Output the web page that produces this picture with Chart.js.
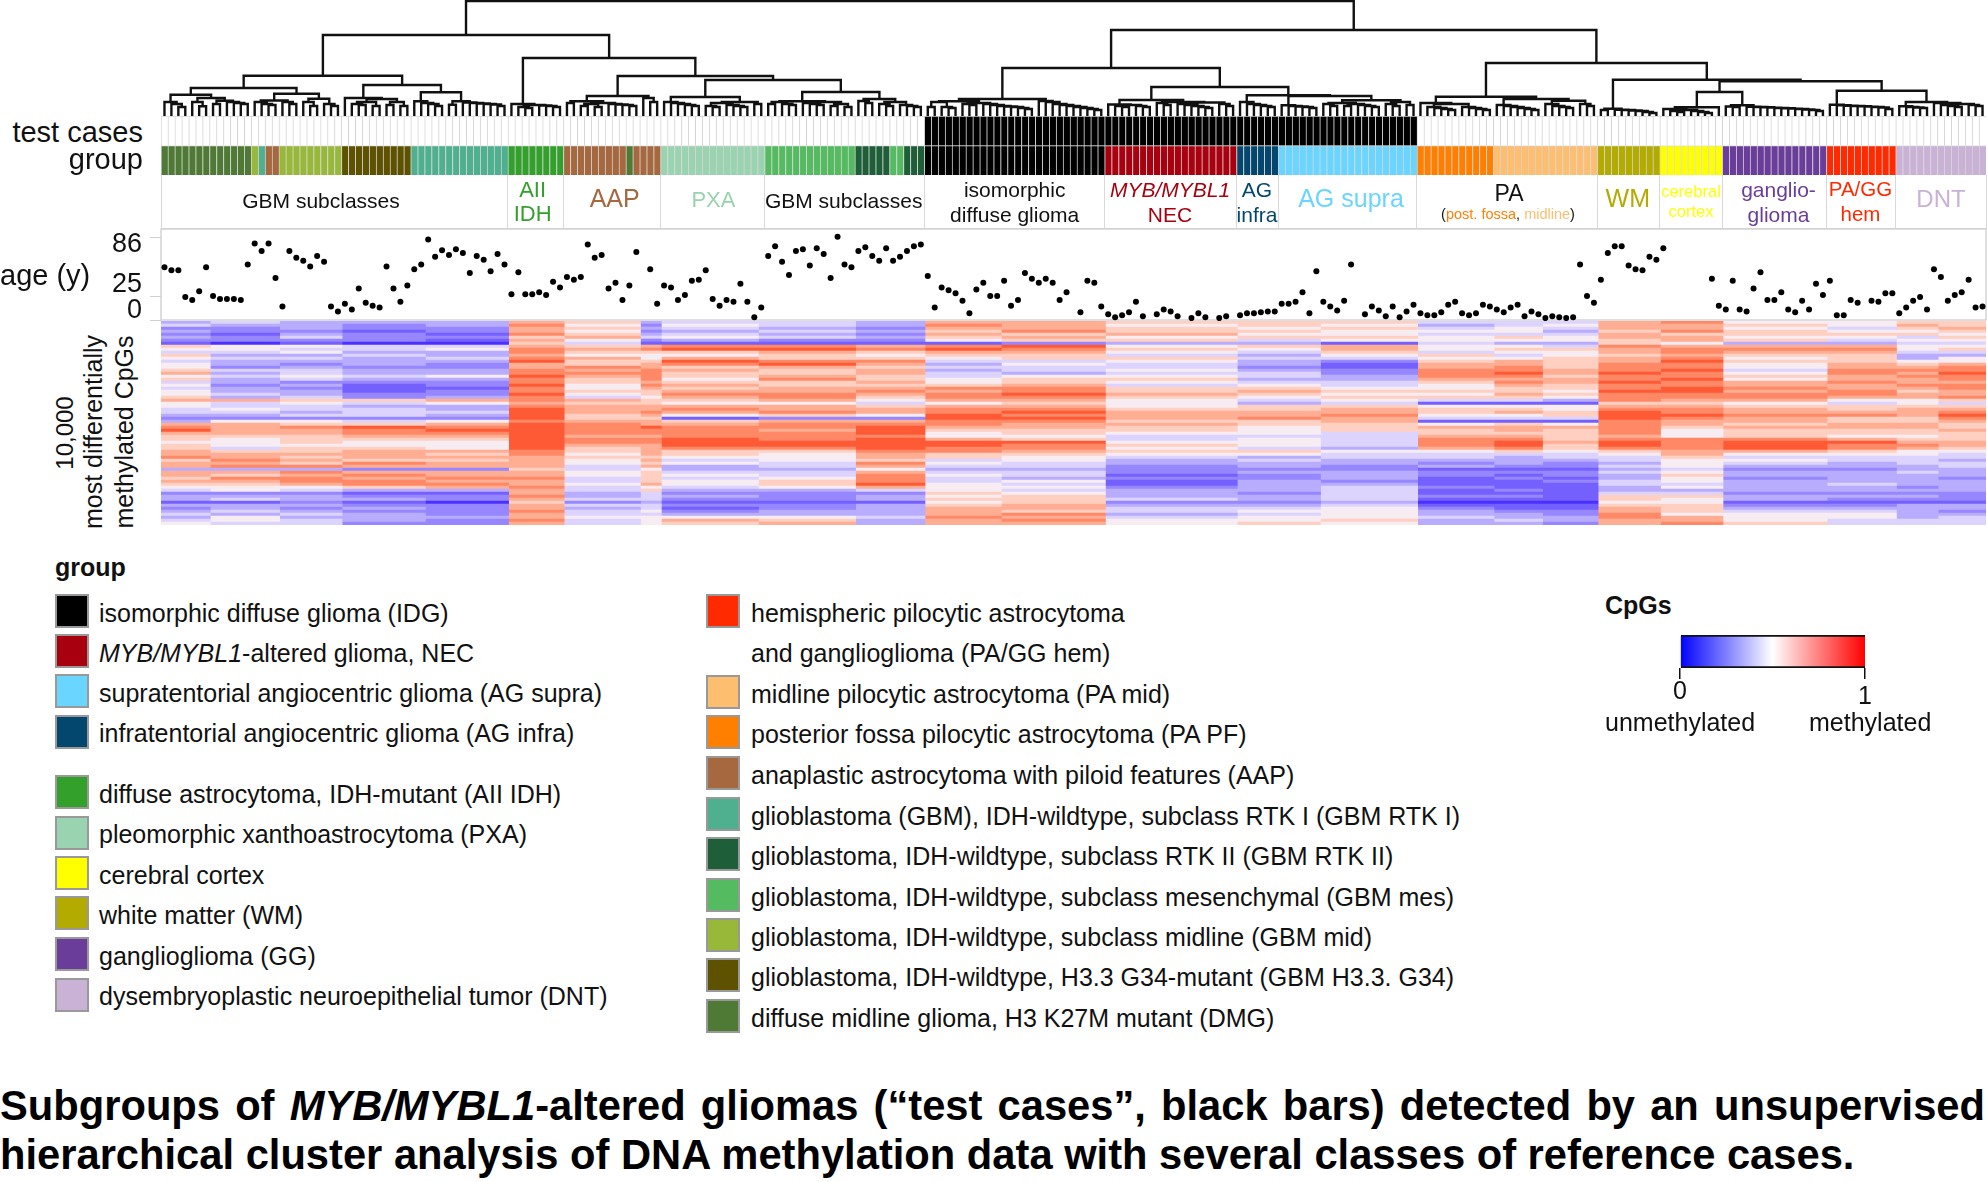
<!DOCTYPE html>
<html>
<head>
<meta charset="utf-8">
<title>Methylation cluster analysis</title>
<script src="https://cdn.jsdelivr.net/npm/chart.js@4/dist/chart.umd.min.js"></script>
<style>
    html, body { margin: 0; background: #fff; }
    #page { position: relative; width: 1987px; height: 1182px; overflow: hidden; font-family: "Liberation Sans", Arial, sans-serif; color: #111; }
    #page canvas { position: absolute; }
    .t { position: absolute; line-height: 1; white-space: nowrap; }
    .sw { position: absolute; box-sizing: border-box; width: 34px; height: 34px; border: 2px solid #999; }
</style>
</head>
<body>
<div id="page"></div>
<script>
'use strict';

// group colours, by short name
var groupColors = {
    DMG: '#4E7A36', MID: '#98B83A', RTK1: '#4FB08F', AAP: '#A5683F', G34: '#5E5200', AII: '#33A02C',
    PXA: '#99D3AF', MES: '#54BB60', RTK2: '#1E5E38', IDG: '#000000', NEC: '#A8000F', INFRA: '#03476F',
    SUPRA: '#6AD5FF', PF: '#FF7F00', PAMID: '#FDBE6F', WM: '#B3AB00', CTX: '#FFFF00', GG: '#6A3D9A',
    HEM: '#FF2A00', DNT: '#CAB2D6'
};

// cases per group, left to right
var groupRuns = [
    ['DMG', 13], ['MID', 1], ['RTK1', 1], ['AAP', 2], ['MID', 9], ['G34', 10], ['RTK1', 14], ['AII', 8],
    ['AAP', 9], ['DMG', 1], ['AAP', 4], ['PXA', 15], ['MES', 13], ['RTK2', 5], ['MES', 2], ['RTK2', 3],
    ['IDG', 26], ['NEC', 19], ['INFRA', 6], ['SUPRA', 20], ['PF', 11], ['PAMID', 15], ['WM', 9], ['CTX', 9],
    ['GG', 15], ['HEM', 10], ['DNT', 13]
];
var testRuns = [[0, 110], [1, 71], [0, 82]];

// where the label row is split, in cases
var labelEdges = [0, 50, 58, 72, 87, 110, 136, 155, 161, 181, 207, 216, 225, 240, 250, 263];

// age in years per case, null where no dot is shown
var ages = [
    55, 52, 52, 24, 21, 30, 55, 25, 22, 22, 22, 21, 58, 80, 72, 80, 44, 14, 72, 65,
    62, 56, 67, 61, 14, 9, 17, 11, 33, 18, 15, 13, 56, 33, 19, 36, 53, 58, 84, 66,
    73, 68, 74, 70, 49, 67, 63, 51, 69, 58, 27, 50, 27, 27, 29, 26, 40, 34, 45, 42,
    45, 79, 65, 68, 33, 39, 21, 36, 71, null, 53, 17, 36, 34, 21, 26, 41, 42, 52, 22,
    15, 21, 19, 38, 19, 3, 13, 67, 77, 61, 47, 72, 74, 57, 75, 69, 44, 87, 58, 55,
    72, 76, 67, 62, 75, 62, 66, 72, 77, 79, 46, 13, 34, 31, 28, 20, 7, 32, 39, 25,
    25, 41, 15, 21, 49, 43, 39, 43, 39, 21, 29, null, 8, 41, 39, 14, 6, 3, 5, 8,
    19, 4, null, 6, 11, 9, 4, null, 2, 7, 3, null, 2, 4, null, 5, 7, 7, 8, 9,
    9, 17, 17, 19, 29, 7, 51, 19, 14, 10, 20, 58, null, 6, 14, 10, 4, 14, 3, 9,
    16, 7, 5, 5, 8, 16, 19, 7, 5, 7, 16, 14, 11, 8, 13, 16, 4, 9, 6, 2,
    4, 3, 2, 3, 58, 25, 18, 42, 70, 77, 77, 57, 53, 52, 66, 63, 75, null, null, null,
    null, null, null, 43, 15, 11, 41, 11, 9, 33, 50, 21, 21, 29, 11, 8, 20, 11, 38, 26,
    41, 5, 5, 21, 18, null, 20, 19, 28, 28, 7, 13, 20, 24, 11, 53, 45, 20, 26, 29,
    42, 13, 14
];
var ageTicks = [0, 25, 86];

// heatmap: column blocks (in cases) and rows of levels, 0 unmethylated .. 9 methylated
var heatEdges = [0, 7, 17, 26, 38, 50, 58, 69, 72, 86, 100, 110, 121, 136, 155, 167, 181, 192, 199, 207, 216, 225, 240, 250, 256, 263];
var heatLevels = ['#4A30FF', '#7460FF', '#9686FF', '#B8ACFF', '#DCD4FF', '#F6ECF2', '#FFD0C2', '#FFAE94', '#FF8866', '#FF5A36'];
var heatRows = [
    '3 4 3 3 3 7 6 3 4 4 3 7 7 6 6 6 4 4 4 7 8 5 5 6 6',
    '4 3 3 2 3 8 5 2 5 4 3 8 7 5 6 5 3 4 5 7 7 6 5 7 6',
    '2 2 3 2 2 7 6 3 4 3 2 7 7 6 5 6 4 5 4 7 7 5 4 6 7',
    '3 2 2 1 2 7 5 2 3 4 3 6 8 6 6 5 5 5 3 6 8 6 5 5 6',
    '2 1 3 2 1 8 6 3 4 3 2 7 6 7 5 5 4 4 4 7 6 6 6 6 5',
    '3 2 4 2 2 6 7 4 5 4 3 6 7 5 6 6 5 6 5 7 7 5 5 4 6',
    '2 2 2 2 1 7 5 2 3 2 2 5 6 6 4 5 5 5 5 6 7 6 4 5 5',
    '1 0 1 0 0 6 4 1 1 1 1 1 2 3 3 1 4 3 3 6 5 3 3 4 4',
    '6 5 5 4 4 7 6 7 8 8 7 8 9 5 6 7 5 5 4 8 7 7 7 5 5',
    '5 5 4 4 5 8 7 8 9 9 8 9 8 6 5 7 5 6 6 7 8 8 8 5 6',
    '4 4 5 3 3 8 6 6 6 7 6 7 7 5 4 6 4 5 5 7 8 7 7 4 4',
    '6 3 3 4 3 7 5 5 5 6 5 6 6 4 3 5 6 4 5 6 7 6 6 3 3',
    '5 4 4 3 4 8 7 5 7 6 6 5 6 6 4 4 5 5 6 7 8 5 6 3 5',
    '4 3 3 3 3 9 6 6 9 8 8 4 4 5 3 2 6 7 6 7 9 6 6 5 5',
    '5 3 2 3 2 7 6 7 8 9 7 3 5 4 3 1 7 7 6 8 8 5 7 6 7',
    '5 2 3 2 2 7 8 7 6 7 6 4 4 4 2 1 7 8 6 8 8 5 7 7 8',
    '6 4 4 3 3 8 7 8 7 6 7 3 4 5 3 2 8 8 7 8 9 4 8 8 8',
    '7 3 4 3 3 8 8 8 6 6 7 4 3 4 4 2 8 9 7 9 8 5 8 7 9',
    '5 4 5 4 5 9 7 8 6 7 6 4 5 5 4 3 8 8 6 8 8 6 7 8 8',
    '6 3 4 3 3 8 6 8 5 8 6 5 6 6 3 3 7 7 7 8 9 5 7 7 8',
    '4 3 2 2 2 8 6 7 6 6 7 5 6 5 4 4 6 8 7 9 8 7 8 7 7',
    '5 2 3 1 2 9 5 8 7 6 6 6 7 4 5 4 5 7 6 8 8 7 7 8 8',
    '4 3 2 1 1 8 5 7 6 7 7 8 8 6 6 5 5 6 6 8 9 8 7 7 8',
    '5 3 3 1 2 8 6 6 7 7 8 7 8 6 7 6 6 6 5 9 9 7 8 6 7',
    '5 4 3 2 2 9 5 6 8 8 7 8 9 7 6 5 5 7 6 8 8 8 8 7 7',
    '6 3 4 2 3 8 4 5 7 8 6 8 8 6 5 6 6 6 5 8 8 8 7 7 8',
    '7 7 6 6 7 8 7 6 6 7 5 7 7 5 4 5 4 4 3 8 7 7 5 5 6',
    '5 4 5 4 5 7 6 6 5 5 4 5 6 5 3 4 1 1 1 6 6 5 4 5 4',
    '5 4 4 3 3 8 7 7 7 7 6 7 7 5 6 6 5 5 5 7 7 6 6 6 6',
    '4 5 4 4 3 9 7 7 8 7 7 8 8 6 6 7 6 6 5 8 8 7 6 7 7',
    '4 4 3 4 4 9 7 8 7 8 7 8 9 7 7 7 6 7 6 9 8 7 7 7 8',
    '3 3 4 4 3 9 6 7 5 6 5 9 8 7 7 8 5 5 6 9 9 8 8 7 9',
    '2 2 2 2 2 9 6 6 1 2 2 9 9 7 8 7 4 4 4 9 8 7 6 6 8',
    '3 5 5 4 5 8 7 7 6 7 7 8 8 6 6 7 1 1 1 8 7 7 6 6 7',
    '7 7 6 6 7 9 8 7 7 8 8 8 7 7 6 6 5 6 5 8 7 6 7 7 6',
    '8 7 8 9 8 9 8 9 8 8 9 7 7 6 5 6 7 7 7 8 6 7 7 7 6',
    '9 7 7 8 9 9 8 8 8 7 9 6 6 6 5 6 6 7 6 8 5 6 6 6 7',
    '7 7 7 8 8 9 8 8 8 8 9 5 6 5 5 4 6 6 6 8 5 6 6 6 6',
    '6 6 6 7 7 9 7 7 8 8 8 5 5 4 4 4 7 7 6 7 5 6 5 5 6',
    '6 5 6 6 6 9 8 8 9 8 9 7 6 4 5 4 8 8 6 8 8 8 7 6 6',
    '5 5 6 5 5 9 8 8 9 9 9 9 9 5 5 4 8 9 7 9 8 9 9 7 7',
    '6 5 5 5 5 9 7 7 9 9 9 9 8 6 5 4 8 9 6 9 8 9 8 8 7',
    '6 4 6 6 5 9 6 7 8 8 9 8 8 5 4 3 7 8 6 8 8 9 8 7 6',
    '7 6 6 7 7 8 6 7 6 6 8 8 7 6 6 5 5 6 5 6 7 7 6 5 5',
    '7 7 7 7 6 8 5 7 6 5 7 6 6 5 5 4 4 4 4 5 7 5 5 5 4',
    '8 7 6 7 7 7 6 6 5 5 7 6 5 4 3 4 4 3 4 4 6 4 4 4 4',
    '6 8 7 6 6 7 5 7 4 5 6 4 5 3 4 3 3 3 3 4 5 5 4 4 3',
    '7 7 6 8 7 7 5 6 5 4 8 5 4 3 3 3 2 3 2 3 5 4 3 4 4',
    '7 8 8 7 7 7 4 7 3 4 7 4 4 2 3 2 3 2 2 4 5 3 3 3 4',
    '3 3 3 2 2 6 4 5 3 3 5 3 3 2 2 2 1 1 1 3 4 2 2 3 3',
    '7 7 8 7 7 7 5 6 4 4 7 4 4 2 3 3 2 2 2 4 5 3 3 4 3',
    '7 6 7 8 7 7 5 6 5 4 8 5 4 1 2 3 2 1 2 3 6 3 3 3 3',
    '6 8 8 7 8 8 4 6 4 5 8 4 3 2 2 3 1 2 1 3 5 2 3 3 2',
    '7 7 8 8 7 7 4 6 5 6 8 4 5 1 3 2 1 1 2 4 5 3 3 3 3',
    '6 6 7 8 8 7 5 7 5 6 9 5 4 1 3 3 1 1 1 4 4 3 4 3 3',
    '5 5 5 6 7 8 4 5 4 5 7 5 5 2 3 4 2 1 1 3 5 3 3 2 3',
    '4 5 4 3 3 7 4 6 3 3 4 5 4 3 3 4 1 2 1 3 3 3 3 3 3',
    '2 2 2 1 1 7 3 4 2 2 2 6 5 3 2 4 1 1 1 4 4 2 2 2 2',
    '3 3 3 2 2 8 3 4 3 2 3 5 6 3 3 4 2 2 1 6 6 3 3 3 2',
    '3 4 3 3 2 7 4 4 2 2 3 6 6 4 3 4 1 1 1 6 5 3 2 2 2',
    '1 1 2 1 0 6 2 3 1 1 1 5 6 2 2 3 0 0 0 5 5 1 1 1 1',
    '3 3 3 2 2 7 4 4 2 2 3 6 7 3 3 4 1 1 1 6 6 2 2 3 3',
    '2 3 2 3 2 7 3 4 1 2 3 7 7 4 4 5 2 1 1 7 6 3 3 3 3',
    '3 4 3 2 2 8 4 5 2 3 3 7 6 4 5 5 3 2 2 7 6 4 4 3 2',
    '4 3 4 3 2 7 4 4 3 3 3 7 8 3 4 5 3 3 2 8 5 5 5 3 3',
    '3 5 3 3 3 7 5 5 5 5 4 8 7 4 5 5 4 3 3 8 7 5 5 3 4',
    '4 5 4 3 2 8 4 5 7 6 3 7 8 5 5 6 3 4 3 7 7 5 4 4 4',
    '5 4 4 2 2 7 4 5 6 7 3 7 7 5 6 5 3 3 2 7 8 6 4 4 4'
];

// dendrogram: a node is [height, left, right], a leaf is 0.
// comb(a, b, c) is the usual right-descending ladder of merges.
function comb() {
    var hs = Array.prototype.slice.call(arguments), node = 0;
    for (var i = hs.length - 1; i >= 0; i--) node = [hs[i], 0, node];
    return node;
}
var treeGbmA = [40.3,
    [28,
        [21.3, comb(14, 12, 9), [18, comb(14, 9.7), [15.3, [12, 0, 0], comb(14, 13, 12)]]],
        [22.3, [15.5, comb(14, 12, 11), comb(14, 12)], [17.3, comb(14, 10), comb(12, 10)]]],
    [31,
        [18, 0, [17, [14, comb(12, 11), [10, 0, 0]], [14, [11, 0, 0], [10, 0, 0]]]],
        [23.7, comb(14.7, 13, 12, 10), [14.7, [11.3, 0, 0], comb(13.5, 13, 12.5, 12, 11.5, 10)]]]
];
var treeAii = [12, 0, [11, comb(9, 8), comb(10.5, 10, 9)]];
var treeAap = [20, [14.7, [13, 0, 0], [13, [12, [10, 0, 0], [9, 0, 0]], comb(12, 11.5, 11, 10)]], comb(18, 14)];
var treePxa = [19, comb(14, 13, 12, 11, 10), [14, [13, comb(10, 9), comb(11, 10, 9)], [12, 0, 0]]];
var treeGbmB = [24,
    [14.7, [14, [12, 0, 0], comb(12, 11)], [14, comb(13, 12, 11), [12, [10, 0, 0], [9, 0, 0]]]],
    [17, comb(15, 13), [14, comb(12, 10), comb(11, 10, 9)]]
];
var treeIdg = [17,
    [14.7, [14, [9, 0, 0], comb(9, 8)], [13, comb(12, 11), comb(12, 11, 10, 9.5, 9, 8, 7)]],
    [15, 0, comb(14, 12, 11, 10, 9, 8, 7, 6)]
];
var treeNec = [16, [11.5, 0, [11, comb(10, 9), comb(10, 9)]], [14, comb(13, 11), [13.5, comb(12, 11, 10, 9, 8), comb(12, 10)]]];
var treeAg = [20.7, comb(14, 12, 11, 10, 9),
    [20, comb(10.7, 10, 9.5, 9, 8),
        [15.7, [13, comb(12, 10), [12, [10, 0, 0], comb(11, 10, 9)]], [14, comb(12, 10), [11, 0, 0]]]]
];
var treePa = [19.3, [13, 0, [12, comb(9, 8, 7, 6), comb(9, 8, 7, 6)]],
    [17, comb(11, 10, 9, 8, 7, 6), [15.3, comb(12, 10, 9, 8), comb(12, 10)]]
];
var treeWm = [7.3, [6, 0, 0], comb(6.3, 6, 5.5, 5, 4, 3)];
var treeCtx = [8.7, [7, 0, [6, comb(5, 4), comb(5, 4, 3)]], 0];
var treeGg = [10.7, comb(9.5, 9), comb(9.3, 9, 8.7, 8.4, 8, 7.7, 7.4, 7, 6.5, 6, 5)];
var treeHem = comb(11.3, 10.8, 10.3, 10, 9.7, 9.4, 9, 8.5, 7);
var treeDnt = [14, comb(9.7, 9, 8.5, 8), [13, 0, [12, comb(11, 10, 9), comb(11, 10)]]];
var treeRoot = [115,
    [81, treeGbmA, [58, treeAii, [40, treeAap, [36, treePxa, treeGbmB]]]],
    [86,
        [48, treeIdg, [29, treeNec, treeAg]],
        [53, treePa, [36.3, treeWm, [34.7, [24, treeCtx, treeGg], [25.3, treeHem, treeDnt]]]]]
];

// label row text: text, centre x, baseline y, size, colour
var labelTexts = [
    ['GBM subclasses', 321, 208, 21, '#111'],
    ['AII', 532.6, 197.3, 22, groupColors.AII],
    ['IDH', 532.6, 221.7, 22, groupColors.AII],
    ['AAP', 614.7, 207, 25, groupColors.AAP],
    ['PXA', 713.4, 207.3, 22, groupColors.PXA],
    ['GBM subclasses', 843.7, 208, 21, '#111'],
    ['isomorphic', 1014.7, 196.7, 21, '#111'],
    ['diffuse glioma', 1014.7, 221.7, 21, '#111'],
    ['<i>MYB/MYBL1</i>', 1170, 196.7, 21, groupColors.NEC],
    ['NEC', 1170, 221.7, 21, groupColors.NEC],
    ['AG', 1257, 196.7, 21, groupColors.INFRA],
    ['infra', 1257, 221.7, 21, groupColors.INFRA],
    ['AG supra', 1351, 207, 25, groupColors.SUPRA],
    ['PA', 1509, 201.7, 23, '#111'],
    ['(<span style="color:#FF7F00">post. fossa</span>, <span style="color:#FDBE6F">midline</span>)', 1508, 219, 14.5, '#111'],
    ['WM', 1627.8, 207, 25, groupColors.WM],
    ['cerebral', 1691, 197.3, 16.5, groupColors.CTX],
    ['cortex', 1691, 217.3, 16.5, groupColors.CTX],
    ['ganglio-', 1778.5, 196.7, 21, groupColors.GG],
    ['glioma', 1778.5, 221.7, 21, groupColors.GG],
    ['PA/GG', 1860.5, 196.7, 20.5, groupColors.HEM],
    ['hem', 1860.5, 221.7, 20.5, groupColors.HEM],
    ['DNT', 1941, 207, 24, groupColors.DNT]
];

// legend: text, swatch group, swatch top
var legendLeft = [
    ['isomorphic diffuse glioma (IDG)', 'IDG', 594],
    ['<i>MYB/MYBL1</i>-altered glioma, NEC', 'NEC', 634],
    ['supratentorial angiocentric glioma (AG supra)', 'SUPRA', 674],
    ['infratentorial angiocentric glioma (AG infra)', 'INFRA', 714.5],
    ['diffuse astrocytoma, IDH-mutant (AII IDH)', 'AII', 775],
    ['pleomorphic xanthoastrocytoma (PXA)', 'PXA', 815.5],
    ['cerebral cortex', 'CTX', 856],
    ['white matter (WM)', 'WM', 896],
    ['ganglioglioma (GG)', 'GG', 937],
    ['dysembryoplastic neuroepithelial tumor (DNT)', 'DNT', 977.5]
];
var legendRight = [
    ['hemispheric pilocytic astrocytoma', 'HEM', 594],
    ['midline pilocytic astrocytoma (PA mid)', 'PAMID', 674.5],
    ['posterior fossa pilocytic astrocytoma (PA PF)', 'PF', 715],
    ['anaplastic astrocytoma with piloid features (AAP)', 'AAP', 756],
    ['glioblastoma (GBM), IDH-wildtype, subclass RTK I (GBM RTK I)', 'RTK1', 796.5],
    ['glioblastoma, IDH-wildtype, subclass RTK II (GBM RTK II)', 'RTK2', 837],
    ['glioblastoma, IDH-wildtype, subclass mesenchymal (GBM mes)', 'MES', 877.5],
    ['glioblastoma, IDH-wildtype, subclass midline (GBM mid)', 'MID', 918],
    ['glioblastoma, IDH-wildtype, H3.3 G34-mutant (GBM H3.3. G34)', 'G34', 958],
    ['diffuse midline glioma, H3 K27M mutant (DMG)', 'DMG', 998.5]
];

var PLOT_LEFT = 161, PLOT_W = 1825;
var page = document.getElementById('page');

Chart.defaults.animation = false;
Chart.defaults.font.family = '"Liberation Sans", Arial, sans-serif';
Chart.defaults.devicePixelRatio = 1;
Chart.defaults.responsive = false;
Chart.defaults.plugins.legend.display = false;
Chart.defaults.plugins.tooltip.enabled = false;
Chart.defaults.plugins.colors.enabled = false;

function addCanvas(x, y, w, h) {
    var c = document.createElement('canvas');
    c.width = w;
    c.height = h;
    c.style.left = x + 'px';
    c.style.top = y + 'px';
    c.style.width = w + 'px';
    c.style.height = h + 'px';
    page.appendChild(c);
    return c;
}

// text placed by its baseline; align is l, c or r
function addText(html, x, base, size, color, align, extra) {
    var el = document.createElement('div');
    el.className = 't';
    el.innerHTML = html;
    el.style.left = x + 'px';
    el.style.top = (base - 0.8465 * size) + 'px';
    el.style.fontSize = size + 'px';
    el.style.color = color || '#111';
    if (align === 'c') el.style.transform = 'translateX(-50%)';
    if (align === 'r') el.style.transform = 'translateX(-100%)';
    if (extra) el.style.cssText += extra;
    page.appendChild(el);
    return el;
}

function addVertical(html, baseX, centerY, size) {
    var el = document.createElement('div');
    el.className = 't';
    el.innerHTML = html;
    el.style.left = baseX + 'px';
    el.style.top = centerY + 'px';
    el.style.fontSize = size + 'px';
    el.style.transformOrigin = '0 0';
    el.style.transform = 'rotate(-90deg) translate(-50%, -0.8465em)';
    page.appendChild(el);
}

// case colours
var caseColors = [];
groupRuns.forEach(function (run) {
    for (var i = 0; i < run[1]; i++) caseColors.push(groupColors[run[0]]);
});
var testColors = [];
testRuns.forEach(function (run) {
    for (var i = 0; i < run[1]; i++) testColors.push(run[0] ? '#000' : '#fff');
});
var caseLabels = caseColors.map(function (c, i) { return String(i + 1); });

// dendrogram
var dendroPoints = [], leafCount = 0;
function walk(node) {
    if (node === 0) {
        leafCount++;
        return { x: leafCount - 0.5, h: 0 };
    }
    var a = walk(node[1]), b = walk(node[2]);
    dendroPoints.push({ x: a.x, y: a.h }, { x: a.x, y: node[0] }, { x: b.x, y: node[0] }, { x: b.x, y: b.h }, { x: a.x, y: null });
    return { x: (a.x + b.x) / 2, h: node[0] };
}
walk(treeRoot);

new Chart(addCanvas(PLOT_LEFT, 0, PLOT_W, 117), {
    type: 'scatter',
    data: { datasets: [{ data: dendroPoints, showLine: true, spanGaps: false, borderColor: '#111', borderWidth: 2.4, pointRadius: 0, borderJoinStyle: 'miter' }] },
    options: {
        scales: {
            x: { type: 'linear', display: false, min: 0, max: caseColors.length },
            y: { type: 'linear', display: false, min: -1, max: 116 }
        }
    }
});

// test case and group strips
var stripBorder = { left: 1, top: 1, right: 0, bottom: 0 };
new Chart(addCanvas(PLOT_LEFT, 116, PLOT_W, 59), {
    type: 'bar',
    data: {
        labels: caseLabels,
        datasets: [
            { data: caseLabels.map(function () { return [1, 2]; }), backgroundColor: testColors, borderColor: 'rgba(205,205,205,0.85)', borderWidth: stripBorder, borderSkipped: false },
            { data: caseLabels.map(function () { return [0, 1]; }), backgroundColor: caseColors, borderColor: 'rgba(205,205,205,0.85)', borderWidth: stripBorder, borderSkipped: false }
        ]
    },
    options: {
        datasets: { bar: { grouped: false, barPercentage: 1, categoryPercentage: 1 } },
        scales: {
            x: { display: false },
            y: { display: false, min: 0, max: 2 }
        }
    }
});

// label row separators
new Chart(addCanvas(PLOT_LEFT, 175, PLOT_W + 1, 54), {
    type: 'scatter',
    data: { datasets: [{ data: [] }] },
    options: {
        layout: { padding: { right: 1 } },
        scales: {
            x: {
                type: 'linear', min: 0, max: caseColors.length,
                afterBuildTicks: function (ax) { ax.ticks = labelEdges.map(function (v) { return { value: v }; }); },
                ticks: { display: false, autoSkip: false },
                grid: { color: '#d9d9d9', lineWidth: 1, drawTicks: false },
                border: { color: '#d0d0d0', width: 2 }
            },
            y: { display: false, min: 0, max: 1 }
        }
    }
});

// heatmap, one floating bar per block and row
var heatMatrix = heatRows.map(function (r) { return r.split(' ').map(Number); });
var heatDatasets = heatEdges.slice(0, -1).map(function (start, b) {
    return {
        // small overlap hides the seams between neighbouring blocks
        data: heatMatrix.map(function () { return [start, heatEdges[b + 1] + 0.1]; }),
        backgroundColor: heatMatrix.map(function (row) { return heatLevels[row[b]]; })
    };
});
new Chart(addCanvas(PLOT_LEFT, 321, PLOT_W, 204), {
    type: 'bar',
    data: { labels: heatRows.map(function (r, i) { return String(i); }), datasets: heatDatasets },
    options: {
        indexAxis: 'y',
        datasets: { bar: { grouped: false, barPercentage: 1, categoryPercentage: 1, borderWidth: 0 } },
        scales: {
            x: { type: 'linear', display: false, min: 0, max: caseColors.length },
            y: { display: false }
        }
    }
});

// age panel
var framePlugin = {
    id: 'frame',
    beforeDraw: function (chart) {
        var a = chart.chartArea, ctx = chart.ctx;
        ctx.save();
        ctx.strokeStyle = '#d4d4d4';
        ctx.lineWidth = 1.5;
        ctx.strokeRect(a.left, a.top, a.right - a.left, a.bottom - a.top);
        ctx.restore();
    }
};
new Chart(addCanvas(0, 228, 1987, 93), {
    type: 'scatter',
    data: {
        datasets: [{
            data: ages.map(function (v, i) { return { x: i + 0.5, y: v }; }),
            backgroundColor: '#000', borderWidth: 0, pointRadius: 3, clip: false
        }]
    },
    plugins: [framePlugin],
    options: {
        layout: { autoPadding: false, padding: { top: 1, bottom: 1, right: 1 } },
        scales: {
            x: { type: 'linear', display: false, min: 0, max: caseColors.length },
            y: {
                type: 'linear', min: 0, max: 95.1,
                afterBuildTicks: function (ax) { ax.ticks = ageTicks.map(function (v) { return { value: v }; }); },
                afterFit: function (ax) { ax.width = PLOT_LEFT; },
                ticks: { display: false },
                grid: { drawOnChartArea: false, tickLength: 11, tickColor: '#d0d0d0', lineWidth: 1 },
                border: { display: false }
            }
        }
    }
});

// colour bar
new Chart(addCanvas(1670, 633, 205, 46), {
    type: 'bar',
    data: {
        labels: ['CpGs'],
        datasets: [{
            data: [[0, 1]],
            borderColor: '#111', borderSkipped: false,
            borderWidth: { top: 2, bottom: 2, left: 0, right: 0 },
            backgroundColor: function (ctx) {
                var a = ctx.chart.chartArea;
                if (!a) return '#fff';
                var g = ctx.chart.ctx.createLinearGradient(a.left, 0, a.right, 0);
                g.addColorStop(0, '#0000ff');
                g.addColorStop(0.5, '#ffffff');
                g.addColorStop(1, '#ff0000');
                return g;
            }
        }]
    },
    options: {
        indexAxis: 'y',
        layout: { padding: { left: 10, right: 10, top: 2 } },
        datasets: { bar: { barPercentage: 1, categoryPercentage: 1 } },
        scales: {
            x: {
                type: 'linear', min: 0, max: 1,
                afterBuildTicks: function (ax) { ax.ticks = [{ value: 0 }, { value: 1 }]; },
                ticks: { display: false },
                grid: { drawOnChartArea: false, tickLength: 11, tickColor: '#111', lineWidth: 1.5 },
                border: { display: false }
            },
            y: { display: false }
        }
    }
});

// row titles and axis text
addText('test cases', 143, 142.2, 29, '#111', 'r');
addText('group', 143, 170, 29, '#111', 'r');
addText('age (y)', 0, 286, 29);
addText('86', 142, 253, 27, '#111', 'r');
addText('25', 142, 293, 27, '#111', 'r');
addText('0', 142, 319, 27, '#111', 'r');
addVertical('10,000', 73, 432.5, 24);
addVertical('most differentially', 102, 432, 25);
addVertical('methylated CpGs', 132.5, 432, 25);

labelTexts.forEach(function (t) {
    addText(t[0], t[1], t[2], t[3], t[4], 'c');
});

// legends
addText('group', 55, 576, 25, '#111', 'l', 'font-weight:bold');
function addLegendItem(item, swX, textX, offset) {
    var sw = document.createElement('div');
    sw.className = 'sw';
    sw.style.left = swX + 'px';
    sw.style.top = item[2] + 'px';
    sw.style.background = groupColors[item[1]];
    page.appendChild(sw);
    addText(item[0], textX, item[2] + offset, 25);
}
legendLeft.forEach(function (item) { addLegendItem(item, 55, 99, 28); });
legendRight.forEach(function (item) { addLegendItem(item, 706, 751, 28.5); });
addText('and ganglioglioma (PA/GG hem)', 751, 662.5, 25);

addText('CpGs', 1605, 614, 25, '#111', 'l', 'font-weight:bold');
addText('0', 1680, 699, 25, '#111', 'c');
addText('1', 1865, 704, 25, '#111', 'c');
addText('unmethylated', 1605, 731, 25);
addText('methylated', 1809, 731, 25);

// caption
addText('Subgroups of <i>MYB/MYBL1</i>-altered gliomas (“test cases”, black bars) detected by an unsupervised', 0, 1120, 41.7, '#000', 'l',
    'font-weight:bold;width:1985px;white-space:normal;text-align:justify;text-align-last:justify');
addText('hierarchical cluster analysis of DNA methylation data with several classes of reference cases.', 0, 1169.5, 41.7, '#000', 'l', 'font-weight:bold');
</script>
</body>
</html>
